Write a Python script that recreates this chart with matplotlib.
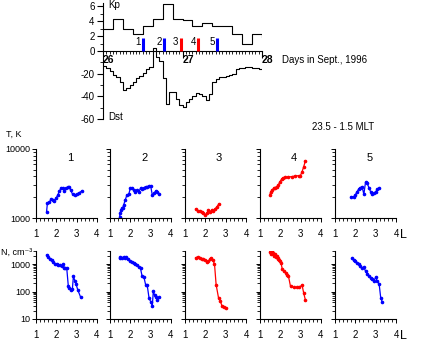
import matplotlib
matplotlib.use("Agg")
import matplotlib.pyplot as plt
from matplotlib.ticker import LogLocator, NullFormatter, FixedLocator, MultipleLocator
import numpy as np

plt.rcParams['font.family'] = ['Liberation Sans', 'DejaVu Sans']

# ---- data: storm indices ----
kp_vals = [3.0, 4.3, 3.0, 2.3, 3.3, 4.3, 6.3, 4.3, 4.2, 3.3, 3.7, 3.3, 3.3, 2.3, 1.0, 2.3]
dst_vals = [-13, -15, -18, -21, -23, -27, -34, -33, -30, -27, -24, -22, -19, -16, -14, 3,
            -5, -9, -24, -47, -36, -36, -42, -48, -49, -45, -42, -40, -37, -38, -40, -43,
            -38, -27, -25, -23, -23, -22, -21, -20, -16, -15, -15, -14, -14, -15, -15, -16]
pass_hours = [12.1, 18.5, 23.4, 28.8, 34.3]
pass_names = ['1', '2', '3', '4', '5']
pass_colors = ['#0000ff', '#0000ff', '#ff0000', '#ff0000', '#0000ff']
day_labels = ['26', '27', '28']

# ---- data: temperature profiles (L, T) ----
T_L = [
    [1.52, 1.56, 1.66, 1.74, 1.82, 1.90, 1.98, 2.07, 2.15, 2.23, 2.31, 2.39, 2.48, 2.56, 2.64, 2.70, 2.80, 2.92, 3.00, 3.13, 3.25],
    [1.47, 1.50, 1.53, 1.58, 1.63, 1.67, 1.75, 1.83, 1.92, 2.00, 2.08, 2.17, 2.25, 2.33, 2.42, 2.50, 2.58, 2.67, 2.75, 2.83, 2.92, 3.00, 3.08, 3.17, 3.25, 3.33, 3.42],
    [1.52, 1.62, 1.73, 1.82, 1.90, 1.98, 2.07, 2.15, 2.23, 2.32, 2.40, 2.48, 2.57, 2.65],
    [1.48, 1.53, 1.60, 1.67, 1.73, 1.82, 1.90, 1.98, 2.07, 2.15, 2.23, 2.40, 2.57, 2.73, 2.90, 2.98, 3.07, 3.15, 3.23],
    [1.80, 1.92, 2.00, 2.08, 2.17, 2.25, 2.33, 2.42, 2.50, 2.58, 2.67, 2.75, 2.83, 2.92, 3.00, 3.08, 3.17],
]
T_val = [
    [1235, 1633, 1687, 1884, 1824, 1763, 1927, 2153, 2460, 2690, 2750, 2460, 2750, 2780, 2846, 2547, 2203, 2153, 2203, 2329, 2460],
    [1045, 1168, 1306, 1380, 1412, 1543, 1824, 2153, 2203, 2690, 2750, 2547, 2409, 2547, 2409, 2690, 2630, 2750, 2846, 2846, 2911, 2911, 2153, 2277, 2460, 2409, 2228],
    [1349, 1263, 1263, 1235, 1168, 1105, 1168, 1306, 1235, 1306, 1263, 1349, 1459, 1578],
    [2154, 2409, 2547, 2690, 2750, 2846, 3006, 3365, 3676, 3843, 3890, 3930, 3980, 4064, 4110, 4064, 4690, 5546, 6700],
    [2037, 2037, 2154, 2409, 2633, 2752, 2846, 2203, 3288, 3178, 2752, 2409, 2203, 2280, 2409, 2600, 2690],
]

# ---- data: density profiles (L, N) ----
N_L = [
    [1.52, 1.61, 1.69, 1.77, 1.85, 1.93, 2.02, 2.10, 2.18, 2.26, 2.34, 2.39, 2.44, 2.51, 2.59, 2.64, 2.70, 2.79, 2.84, 2.92, 2.97, 3.05, 3.20],
    [1.47, 1.50, 1.58, 1.67, 1.75, 1.80, 1.87, 1.97, 2.08, 2.17, 2.25, 2.33, 2.42, 2.50, 2.58, 2.67, 2.75, 2.83, 2.92, 3.00, 3.08, 3.13, 3.20, 3.27, 3.33, 3.43],
    [1.52, 1.62, 1.73, 1.82, 1.90, 1.98, 2.07, 2.15, 2.23, 2.28, 2.37, 2.45, 2.53, 2.65, 2.73, 2.82, 2.93, 3.03],
    [1.48, 1.53, 1.57, 1.62, 1.65, 1.70, 1.73, 1.77, 1.82, 1.87, 1.90, 1.95, 1.98, 2.03, 2.10, 2.20, 2.27, 2.33, 2.40, 2.50, 2.65, 2.82, 2.90, 3.07, 3.15, 3.23],
    [1.83, 1.92, 2.00, 2.08, 2.17, 2.25, 2.33, 2.42, 2.50, 2.58, 2.67, 2.75, 2.83, 2.92, 3.00, 3.08, 3.17, 3.25, 3.33],
]
N_val = [
    [2143, 1811, 1485, 1365, 1219, 1028, 972, 919, 919, 844, 972, 733, 692, 733, 155, 135, 117, 127, 361, 237, 189, 117, 61],
    [1617, 1811, 1711, 1811, 1617, 1811, 1485, 1289, 1219, 1120, 1028, 919, 776, 692, 361, 332, 179, 169, 58, 43, 30, 101, 72, 66, 50, 61],
    [1710, 1811, 1617, 1528, 1485, 1365, 1219, 1289, 1485, 1710, 1365, 1028, 179, 58, 46, 30, 28, 25],
    [2846, 2400, 3013, 2270, 2612, 1967, 2270, 1811, 1967, 1485, 1711, 1365, 1289, 1120, 637, 553, 479, 394, 361, 155, 142, 142, 142, 169, 88, 50],
    [1617, 1365, 1289, 1120, 972, 844, 692, 776, 553, 441, 361, 314, 297, 250, 332, 237, 189, 58, 41],
]
panel_colors = ['#0000ff', '#0000ff', '#ff0000', '#ff0000', '#0000ff']

W, H = 434, 344
fig = plt.figure(figsize=(W / 100, H / 100), dpi=100)


def px_axes(x0, y0, x1, y1):
    # pixel box (top-left origin) -> figure axes
    return fig.add_axes([x0 / W, 1 - y1 / H, (x1 - x0) / W, (y1 - y0) / H])


# ---------- top panel: Kp and Dst ----------
kscale = 6.62  # Kp unit expressed in Dst units
ax = px_axes(103, 3, 262, 119)
ax.set_xlim(0, 48)
ax.set_ylim(-60, 42.4)
kp_x = np.arange(0, 49, 3)
ax.step(kp_x, np.array(kp_vals + [kp_vals[-1] - 0.4]) * kscale, where='post', color='black', lw=0.8)
dst_x = np.arange(0, 49)
ax.step(dst_x, dst_vals + [dst_vals[-1]], where='post', color='black', lw=0.8)
for h, n, c in zip(pass_hours, pass_names, pass_colors):
    ax.plot([h, h], [0, 1.7 * kscale], color=c, lw=2.2, solid_capstyle='butt', zorder=4)
    ax.text(h - 0.6, 1.2 * kscale, n, fontsize=7, ha='right', va='center')

for s in ['top', 'right']:
    ax.spines[s].set_visible(False)
ax.spines['bottom'].set_position(('data', 0))
ax.spines['left'].set_linewidth(0.8)
ax.spines['bottom'].set_linewidth(0.8)
ax.set_xticks([24, 48])
ax.set_xticklabels([])
ax.xaxis.set_minor_locator(MultipleLocator(1))
ax.tick_params(axis='x', which='major', direction='out', length=5, width=0.8)
ax.tick_params(axis='x', which='minor', direction='out', length=2.5, width=0.6)
for i, lab in enumerate(day_labels):
    ax.text(24 * i, -8, lab, fontsize=7.5, fontweight='bold', ha='left', va='center',
            clip_on=False)
ax.text(54, -8, 'Days in Sept., 1996', fontsize=7, ha='left', va='center', clip_on=False)

yt = [6 * kscale, 4 * kscale, 2 * kscale, 0, -20, -40, -60]
ax.set_yticks(yt)
ax.set_yticklabels(['6', '4', '2', '0', '-20', '-40', '-60'], fontsize=7)
ax.yaxis.set_minor_locator(FixedLocator([5 * kscale, 3 * kscale, 1 * kscale, -10, -30, -50]))
ax.tick_params(axis='y', which='major', direction='out', length=4, width=0.8, pad=2)
ax.tick_params(axis='y', which='minor', direction='out', length=2, width=0.6)
ax.text(1.5, 6.1 * kscale, 'Kp', fontsize=7, ha='left', va='center')
ax.text(1.5, -58, 'Dst', fontsize=7, ha='left', va='center')

fig.text(343 / W, 1 - 127 / H, '23.5 - 1.5 MLT', fontsize=7, ha='center', va='center')
fig.text(6 / W, 1 - 134 / H, 'T, K', fontsize=6.5, ha='left', va='center')
fig.text(1 / W, 1 - 252 / H, 'N, cm\u207b\u00b3', fontsize=6.5, ha='left', va='center')

# ---------- bottom panels ----------
lefts = [36, 110, 185, 260, 335]


def style_panel(a, ymin, ymax, xpad):
    a.set_yscale('log')
    a.set_xlim(1, 4)
    a.set_ylim(ymin, ymax)
    for s in ['top', 'right']:
        a.spines[s].set_visible(False)
    for s in ['left', 'bottom']:
        a.spines[s].set_linewidth(0.8)
    a.set_xticks([1, 2, 3, 4])
    a.set_xticklabels(['1', '2', '3', '4'], fontsize=7)
    a.xaxis.set_minor_locator(MultipleLocator(0.2))
    a.tick_params(axis='x', which='major', direction='out', length=3, width=0.7, pad=xpad)
    a.tick_params(axis='x', which='minor', direction='out', length=2.5, width=0.6)
    a.yaxis.set_minor_locator(LogLocator(base=10, subs=np.arange(2, 10)))
    a.yaxis.set_minor_formatter(NullFormatter())
    a.tick_params(axis='y', which='major', direction='out', length=3, width=0.7, pad=1,
                  labelsize=6.5)
    a.tick_params(axis='y', which='minor', direction='out', length=2, width=0.6)


for i in range(5):
    x0 = lefts[i]
    at = px_axes(x0, 149, x0 + 61, 218)
    at.plot(T_L[i], T_val[i], color=panel_colors[i], lw=0.9, marker='o', ms=1.6)
    style_panel(at, 1000, 10000, 5)
    at.set_yticks([1000, 10000])
    if i == 0:
        at.set_yticklabels(['1000', '10000'])
    else:
        at.set_yticklabels([])
    at.text(0.56, 0.87, pass_names[i], transform=at.transAxes, fontsize=8, ha='center', va='center')

    an = px_axes(x0, 251, x0 + 61, 319)
    an.plot(N_L[i], N_val[i], color=panel_colors[i], lw=0.9, marker='o', ms=1.6)
    style_panel(an, 10, 3000, 5)
    an.set_yticks([10, 100, 1000])
    if i == 0:
        an.set_yticklabels(['10', '100', '1000'])
    else:
        an.set_yticklabels([])

fig.text(403 / W, 1 - 235 / H, 'L', fontsize=9, ha='center', va='center')
fig.text(403 / W, 1 - 336 / H, 'L', fontsize=9, ha='center', va='center')

fig.savefig('out.png', dpi=100)
